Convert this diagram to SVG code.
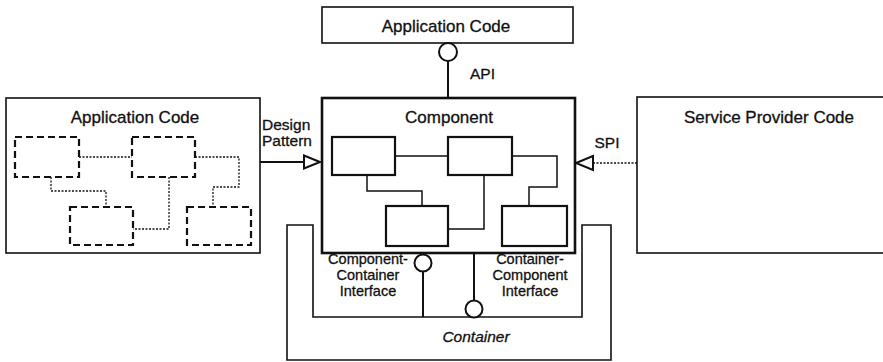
<svg xmlns="http://www.w3.org/2000/svg" width="883" height="362" viewBox="0 0 883 362">
  <style>
    .box { fill: #fff; stroke: #111; stroke-width: 1.6; }
    .comp { fill: #fff; stroke: #111; stroke-width: 2.6; }
    .inner { fill: #fff; stroke: #111; stroke-width: 2.2; }
    .dash { fill: none; stroke: #111; stroke-width: 2.2; stroke-dasharray: 7 4; }
    .wire { fill: none; stroke: #111; stroke-width: 1.5; }
    .dot { fill: none; stroke: #111; stroke-width: 1.3; stroke-dasharray: 2 1.5; }
    .stem { fill: none; stroke: #111; stroke-width: 2; }
    .lolly { fill: #fff; stroke: #111; stroke-width: 2; }
    .head { fill: #fff; stroke: #111; stroke-width: 2; }
    text { font-family: "Liberation Sans", Arial, sans-serif; fill: #111; stroke: #111; stroke-width: 0.3; }
    .title { font-size: 17px; text-anchor: middle; }
    .lbl { font-size: 15.5px; }
    .small { font-size: 14.5px; }
    .mid { text-anchor: middle; }
  </style>

  <!-- container: U-shaped outline around the component notch -->
  <g id="container">
    <path class="box" d="M287,225 H313 V317 H582 V225 H611 V360 H287 Z"/>
    <text class="lbl mid" x="476" y="342" font-style="italic">Container</text>
  </g>

  <!-- top client code -->
  <g id="app-code-top">
    <rect class="box" x="322" y="7" width="251" height="36"/>
    <text class="title" x="446" y="32">Application Code</text>
  </g>

  <!-- left client code with dashed internal parts -->
  <g id="app-code-left">
    <rect class="box" x="6" y="98" width="254" height="155"/>
    <text class="title" x="135" y="123">Application Code</text>
    <path class="dot" d="M79,157 H132 M51,177 V191 H106 V207 M169,177 V229 H133 M195,157 H239 V187 H213 V207"/>
    <rect class="dash" x="15" y="137" width="64" height="40"/>
    <rect class="dash" x="132" y="137" width="63" height="40"/>
    <rect class="dash" x="70" y="207" width="63" height="38"/>
    <rect class="dash" x="187" y="207" width="64" height="38"/>
  </g>

  <!-- component with its internal parts -->
  <g id="component">
    <rect class="comp" x="322" y="98" width="253" height="155"/>
    <text class="title" x="449" y="123">Component</text>
    <path class="wire" d="M395,156 H448 M367,175 V191 H422 V206 M484,175 V229 H448 M512,156 H557 V187 H529 V206"/>
    <rect class="inner" x="332" y="137" width="63" height="38"/>
    <rect class="inner" x="448" y="137" width="64" height="38"/>
    <rect class="inner" x="386" y="206" width="62" height="40"/>
    <rect class="inner" x="502" y="206" width="65" height="40"/>
  </g>

  <!-- service provider -->
  <g id="service-provider">
    <rect class="box" x="637" y="97" width="250" height="156"/>
    <text class="title" x="769" y="123">Service Provider Code</text>
  </g>

  <!-- connectors -->
  <g id="connectors">
    <!-- API lollipop -->
    <line class="stem" x1="448" y1="61" x2="448" y2="98"/>
    <circle class="lolly" cx="448" cy="52" r="9"/>
    <text class="lbl" x="470" y="79">API</text>

    <!-- design pattern realisation -->
    <line class="stem" x1="260" y1="162" x2="304" y2="162"/>
    <path class="head" d="M304,155.5 L320,162 L304,168.5 Z"/>
    <text class="lbl" x="262" y="130">Design</text>
    <text class="lbl" x="262" y="146">Pattern</text>

    <!-- SPI dotted realisation -->
    <line class="dot" x1="593" y1="163" x2="637" y2="163" stroke-width="2"/>
    <path class="head" d="M593,156 L576,163 L593,170 Z"/>
    <text class="lbl mid" x="607" y="148">SPI</text>

    <!-- component-container interface -->
    <line class="stem" x1="423" y1="272" x2="423" y2="317"/>
    <circle class="lolly" cx="423" cy="263" r="8.5"/>
    <text class="small mid" x="368" y="264">Component-</text>
    <text class="small mid" x="368" y="280">Container</text>
    <text class="small mid" x="368" y="296">Interface</text>

    <!-- container-component interface -->
    <line class="stem" x1="474" y1="253" x2="474" y2="301"/>
    <circle class="lolly" cx="474" cy="309" r="8.5"/>
    <text class="small mid" x="530" y="264">Container-</text>
    <text class="small mid" x="530" y="280">Component</text>
    <text class="small mid" x="530" y="296">Interface</text>
  </g>
</svg>
